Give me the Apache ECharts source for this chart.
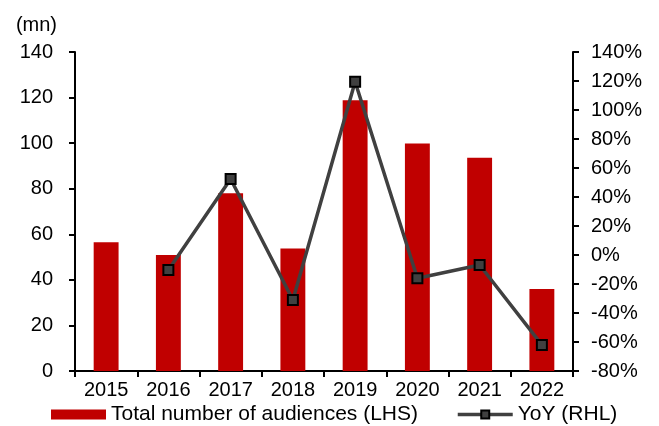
<!DOCTYPE html>
<html>
<head>
<meta charset="utf-8">
<script src="https://cdn.jsdelivr.net/npm/echarts@6/dist/echarts.min.js"></script>
<style>
html, body { margin: 0; padding: 0; background: #fff; }
#main { width: 659px; height: 426px; }
</style>
</head>
<body>
<div id="main"></div>
<script>
var years = ['2015', '2016', '2017', '2018', '2019', '2020', '2021', '2022'];
var audiences = [56.5, 50.9, 78, 53.8, 118.8, 99.8, 93.6, 36];
var yoy = [null, -10.3, 52.4, -31, 119.5, -16, -6.9, -62];

var font = "'Liberation Sans', Arial, sans-serif";
var fs = 20;
var myChart = echarts.init(document.getElementById('main'));

var option = {
    animation: false,
    textStyle: { fontFamily: font, color: '#000' },
    grid: { left: 75, right: 86, top: 52, bottom: 55 },
    legend: {
        top: 404,
        left: 51,
        padding: 0,
        itemGap: 38,
        textStyle: { fontFamily: font, fontSize: 21, color: '#000' },
        data: [
            { name: 'Total number of audiences (LHS)', icon: 'rect', itemWidth: 52, itemHeight: 10 },
            { name: 'YoY (RHL)', lineStyle: { width: 3.5, color: '#404040' } }
        ],
        itemWidth: 55,
        itemHeight: 10
    },
    xAxis: {
        type: 'category',
        data: years,
        boundaryGap: true,
        axisLine: { lineStyle: { color: '#000', width: 2 } },
        axisTick: { show: true, interval: 0, length: 6, lineStyle: { color: '#000', width: 2 } },
        axisLabel: { fontSize: fs, color: '#000', margin: 9, fontFamily: font }
    },
    yAxis: [{
        type: 'value',
        min: 0, max: 140, interval: 20,
        name: '(mn)',
        nameLocation: 'end',
        nameGap: 17,
        nameTextStyle: { fontSize: fs, color: '#000', fontFamily: font, align: 'right', padding: [0, 18, 0, 0] },
        splitLine: { show: false },
        axisLine: { show: true, lineStyle: { color: '#000', width: 2 } },
        axisTick: { show: true, length: 6, lineStyle: { color: '#000', width: 2 } },
        axisLabel: { fontSize: fs, color: '#000', margin: 22, fontFamily: font }
    }, {
        type: 'value',
        min: -80, max: 140, interval: 20,
        position: 'right',
        splitLine: { show: false },
        axisLine: { show: true, lineStyle: { color: '#000', width: 2 } },
        axisTick: { show: true, length: 6, lineStyle: { color: '#000', width: 2 } },
        axisLabel: { fontSize: fs, color: '#000', margin: 18, formatter: '{value}%', fontFamily: font }
    }],
    series: [{
        name: 'Total number of audiences (LHS)',
        type: 'bar',
        data: audiences,
        barWidth: '40%',
        itemStyle: { color: '#C00000' }
    }, {
        name: 'YoY (RHL)',
        type: 'line',
        yAxisIndex: 1,
        data: yoy,
        symbol: 'rect',
        symbolSize: 10,
        lineStyle: { color: '#404040', width: 3.5 },
        itemStyle: { color: '#404040', borderColor: '#000', borderWidth: 2 }
    }]
};

myChart.setOption(option);
</script>
</body>
</html>
